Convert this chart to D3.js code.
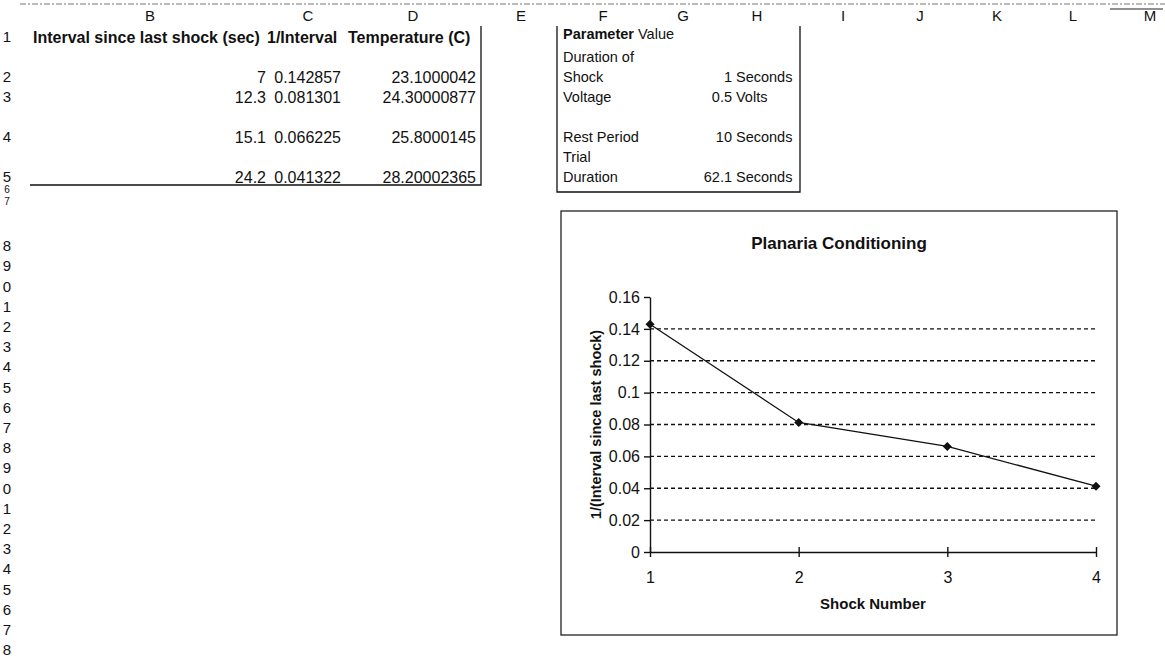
<!DOCTYPE html>
<html>
<head>
<meta charset="utf-8">
<script src="https://cdn.jsdelivr.net/npm/d3@7"></script>
<style>
    body {margin: 0; background: #fff;}
    svg {display: block; font-family: 'Liberation Sans', Arial, sans-serif; fill: #111;}
</style>
</head>
<body>
<svg id="sheet" width="1165" height="669"></svg>
<script>
// ---- values read from the sheet ----
const shockNumber = [1, 2, 3, 4];
const intervalSec = ['7', '12.3', '15.1', '24.2'];
const inverseInterval = [0.142857, 0.081301, 0.066225, 0.041322];
const temperatureC = ['23.1000042', '24.30000877', '25.8000145', '28.20002365'];
const yTickValues = [0, 0.02, 0.04, 0.06, 0.08, 0.1, 0.12, 0.14, 0.16];
const columnLetters = ['B', 'C', 'D', 'E', 'F', 'G', 'H', 'I', 'J', 'K', 'L', 'M'];
const tableHeaders = ['Interval since last shock (sec)', '1/Interval', 'Temperature (C)'];
const paramNames = [['Duration of', 'Shock'], ['Voltage'], ['Rest Period'], ['Trial', 'Duration']];
const paramValues = ['1', '0.5', '10', '62.1'];
const paramUnits = ['Seconds', 'Volts', 'Seconds', 'Seconds'];
const rowCount = 28;

// ---- layout ----
const columnX = [150, 308, 413, 521, 603, 683, 757, 843, 920, 997, 1073, 1150];
// rows 1-5 are bottom aligned text lines, 6-7 are squeezed
const firstRowsY = [37, 77, 97, 137, 177, 189, 201];
const laterRows = d3.scaleLinear().domain([8, 28]).range([246, 650]);
const rowY = r => r <= firstRowsY.length ? firstRowsY[r - 1] : laterRows(r);
const lineH = 20;
const sheetFont = 16;
const paramFont = 14.5;

const svg = d3.select('#sheet');
const sheet = svg.append('g').attr('class', 'sheet');

// top border of the column header strip
sheet.append('line')
    .attr('x1', 20).attr('x2', 1165)
    .attr('y1', 4).attr('y2', 4)
    .attr('stroke', '#777')
    .attr('stroke-dasharray', '6,2,2,2');

sheet.selectAll('text.colLetter')
    .data(columnLetters)
    .join('text')
    .attr('class', 'colLetter')
    .attr('x', (d, i) => columnX[i])
    .attr('y', 16)
    .attr('dy', '0.35em')
    .attr('text-anchor', 'middle')
    .style('font-size', '15px')
    .text(d => d);

sheet.append('line')
    .attr('x1', 1110).attr('x2', 1163)
    .attr('y1', 9).attr('y2', 9)
    .attr('stroke', '#222');

sheet.selectAll('text.rowNum')
    .data(d3.range(1, rowCount + 1))
    .join('text')
    .attr('class', 'rowNum')
    .attr('x', 7)
    .attr('y', d => rowY(d))
    .attr('dy', '0.35em')
    .attr('text-anchor', 'middle')
    .style('font-size', d => (d === 6 || d === 7) ? '10px' : '15px')
    .text(d => d % 10);

// left table
const headerX = [33, 267, 348];
sheet.selectAll('text.header')
    .data(tableHeaders)
    .join('text')
    .attr('class', 'header')
    .attr('x', (d, i) => headerX[i])
    .attr('y', rowY(1))
    .attr('dy', '0.35em')
    .style('font-size', sheetFont + 'px')
    .style('font-weight', 'bold')
    .text(d => d);

const valueCols = [
    {x: 266, vals: intervalSec},
    {x: 341, vals: inverseInterval.map(d => d.toFixed(6))},
    {x: 476, vals: temperatureC}
];
valueCols.forEach(c => {
    sheet.selectAll(null)
        .data(c.vals)
        .join('text')
        .attr('x', c.x)
        .attr('y', (d, i) => rowY(i + 2))
        .attr('dy', '0.35em')
        .attr('text-anchor', 'end')
        .style('font-size', sheetFont + 'px')
        .text(d => d);
});
sheet.append('path')
    .attr('d', 'M30,185H481V26')
    .attr('fill', 'none')
    .attr('stroke', '#111')
    .attr('stroke-width', 1.3);

// right table
const paramRows = [2, 3, 4, 5];
sheet.append('text')
    .attr('x', 563).attr('y', rowY(1) - 3).attr('dy', '0.35em')
    .style('font-size', paramFont + 'px')
    .style('font-weight', 'bold')
    .text('Parameter');
sheet.append('text')
    .attr('x', 638).attr('y', rowY(1) - 3).attr('dy', '0.35em')
    .style('font-size', paramFont + 'px')
    .text('Value');
paramNames.forEach((lines, i) => {
    const yb = rowY(paramRows[i]);
    lines.forEach((t, j) => {
        sheet.append('text')
            .attr('x', 563)
            .attr('y', yb - (lines.length - 1 - j) * lineH)
            .attr('dy', '0.35em')
            .style('font-size', paramFont + 'px')
            .text(t);
    });
    sheet.append('text')
        .attr('x', 732).attr('y', yb).attr('dy', '0.35em')
        .attr('text-anchor', 'end')
        .style('font-size', paramFont + 'px')
        .text(paramValues[i]);
    sheet.append('text')
        .attr('x', 736).attr('y', yb).attr('dy', '0.35em')
        .style('font-size', paramFont + 'px')
        .text(paramUnits[i]);
});
sheet.append('path')
    .attr('d', 'M557,26V192H800V26')
    .attr('fill', 'none')
    .attr('stroke', '#111')
    .attr('stroke-width', 1.3);

// ---- chart ----
const box = {x0: 561, y0: 211, x1: 1117, y1: 635};
const plot = {left: 650, right: 1096, top: 297, bottom: 552};

const chart = svg.append('g').attr('class', 'chart');
chart.append('rect')
    .attr('x', box.x0).attr('y', box.y0)
    .attr('width', box.x1 - box.x0).attr('height', box.y1 - box.y0)
    .attr('fill', '#fff')
    .attr('stroke', '#222')
    .attr('stroke-width', 1.3);

const x = d3.scaleLinear().domain([1, 4]).range([plot.left, plot.right]);
const y = d3.scaleLinear().domain([0, 0.16]).range([plot.bottom, plot.top]);

chart.append('text')
    .attr('x', (box.x0 + box.x1) / 2).attr('y', 243).attr('dy', '0.35em')
    .attr('text-anchor', 'middle')
    .style('font-size', '17px')
    .style('font-weight', 'bold')
    .text('Planaria Conditioning');

// dashed grid
chart.selectAll('line.grid')
    .data(yTickValues.filter(v => v > 0 && v < 0.16))
    .join('line')
    .attr('class', 'grid')
    .attr('x1', plot.left).attr('x2', plot.right)
    .attr('y1', d => y(d)).attr('y2', d => y(d))
    .attr('stroke', '#111')
    .attr('stroke-width', 1.4)
    .attr('stroke-dasharray', '4,3');

const yAxis = chart.append('g')
    .attr('transform', `translate(${plot.left},0)`)
    .call(d3.axisLeft(y).tickValues(yTickValues).tickSize(6).tickSizeOuter(0)
        .tickFormat(d => String(+d.toFixed(2))));
yAxis.selectAll('text').style('font-size', '16px').attr('x', -10).attr('fill', '#111');

const xAxis = chart.append('g')
    .attr('transform', `translate(0,${plot.bottom})`)
    .call(d3.axisBottom(x).tickValues(shockNumber).tickSize(5).tickSizeOuter(0)
        .tickFormat(d3.format('d')));
xAxis.selectAll('.tick line').attr('y1', -5);
xAxis.selectAll('text').style('font-size', '16px').attr('y', 20).attr('fill', '#111');
chart.selectAll('.domain, .tick line').attr('stroke', '#111').attr('stroke-width', 1.4);

chart.append('text')
    .attr('transform', `translate(596,${(plot.top + plot.bottom) / 2}) rotate(-90)`)
    .attr('dy', '0.35em')
    .attr('text-anchor', 'middle')
    .style('font-size', '14.5px')
    .style('font-weight', 'bold')
    .text('1/(Interval since last shock)');

chart.append('text')
    .attr('x', (plot.left + plot.right) / 2).attr('y', 604).attr('dy', '0.35em')
    .attr('text-anchor', 'middle')
    .style('font-size', '15px')
    .style('font-weight', 'bold')
    .text('Shock Number');

// series
const pts = shockNumber.map((s, i) => ({s, v: inverseInterval[i]}));
chart.append('path')
    .datum(pts)
    .attr('fill', 'none')
    .attr('stroke', '#111')
    .attr('stroke-width', 1.3)
    .attr('d', d3.line().x(d => x(d.s)).y(d => y(d.v)));

const r = 4.5;
chart.selectAll('path.marker')
    .data(pts)
    .join('path')
    .attr('class', 'marker')
    .attr('transform', d => `translate(${x(d.s)},${y(d.v)})`)
    .attr('d', `M0,${-r}L${r},0L0,${r}L${-r},0Z`)
    .attr('fill', '#111');
</script>
</body>
</html>
